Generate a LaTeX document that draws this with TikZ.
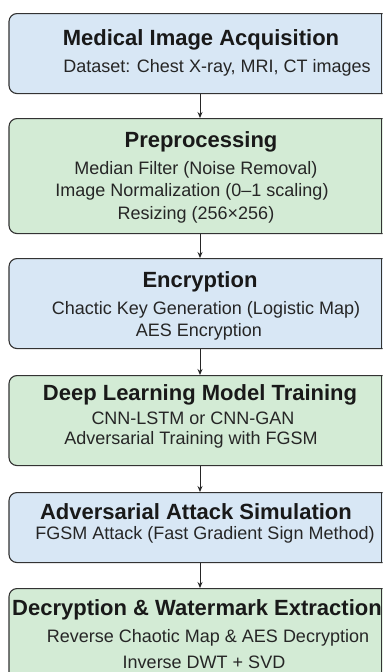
\documentclass[tikz,border=0pt]{standalone}
\usepackage{fontspec}
\setmainfont{Liberation Sans}
\usetikzlibrary{arrows.meta}
\definecolor{bluefill}{HTML}{D8E7F5}
\definecolor{greenfill}{HTML}{D3EBD5}
\definecolor{edge}{HTML}{333333}
\tikzset{
  x=1pt, y=-1pt,
  stage/.style={draw=edge, line width=1.1pt, rounded corners=8pt, minimum width=390pt, inner sep=0pt, anchor=north},
  bluestage/.style={stage, fill=bluefill},
  greenstage/.style={stage, fill=greenfill},
  cutedge/.style={draw=edge, line width=1.1pt},
  ttl/.style={font=\bfseries\fontsize{22}{24}\selectfont, text=black!90, inner sep=0pt},
  sub/.style={font=\fontsize{18}{20}\selectfont, text=black!85, inner sep=0pt},
  flow/.style={draw=black!85, line width=0.9pt, -{Stealth[length=6pt,width=5pt]}}
}
\begin{document}
\begin{tikzpicture}
\useasboundingbox (0,0) rectangle (383,672);
\fill[white] (0,0) rectangle (383,672);
\coordinate (rx) at (381.9,0);
% stage boxes, square-cut on the right
\begin{scope}
\clip (0,0) rectangle (382.5,672);
\node[bluestage, minimum height=80pt] (s1) at (204,13) {};
\node[greenstage, minimum height=115pt] (s2) at (204,118) {};
\node[bluestage, minimum height=90pt] (s3) at (204,258) {};
\node[greenstage, minimum height=90pt] (s4) at (204,375) {};
\node[bluestage, minimum height=70pt] (s5) at (204,492) {};
\node[greenstage, minimum height=100pt] (s6) at (204,588) {};
\foreach \s in {s1,s2,s3,s4,s5,s6}
  \draw[cutedge] (\s.north -| rx) -- (\s.south -| rx);
\end{scope}
% labels
\node[ttl] (t1) at (201,40) {Medical Image Acquisition};
\node[sub] (l11) at (217,68) {Dataset: Chest X-ray, MRI, CT images};
\node[ttl] (t2) at (201,142) {Preprocessing};
\node[sub] (l21) at (196,170) {Median Filter (Noise Removal)};
\node[sub] (l22) at (192,192) {Image Normalization (0–1 scaling)};
\node[sub] (l23) at (196,215) {Resizing (256×256)};
\node[ttl] (t3) at (200,282) {Encryption};
\node[sub] (l31) at (206,310) {Chactic Key Generation (Logistic Map)};
\node[sub] (l32) at (199,332) {AES Encryption};
\node[ttl] (t4) at (200,395) {Deep Learning Model Training};
\node[sub] (l41) at (193,418) {CNN-LSTM or CNN-GAN};
\node[sub] (l42) at (191,440) {Adversarial Training with FGSM};
\node[ttl] (t5) at (196,512) {Adversarial Attack Simulation};
\node[sub] (l51) at (205,535) {FGSM Attack (Fast Gradient Sign Method)};
\node[ttl] (t6) at (197,610) {Decryption \& Watermark Extraction};
\node[sub] (l61) at (208,638) {Reverse Chaotic Map \& AES Decryption};
\node[sub] (l62) at (204,662) {Inverse DWT + SVD};
% flow between stages
\draw[flow] ([xshift=-4pt]s1.south) -- ([xshift=-4pt]s2.north);
\draw[flow] ([xshift=-4pt]s2.south) -- ([xshift=-4pt]s3.north);
\draw[flow] ([xshift=-4pt]s3.south) -- ([xshift=-4pt]s4.north);
\draw[flow] ([xshift=-4pt]s4.south) -- ([xshift=-4pt]s5.north);
\draw[flow] ([xshift=-4pt]s5.south) -- ([xshift=-4pt]s6.north);
\end{tikzpicture}
\end{document}
